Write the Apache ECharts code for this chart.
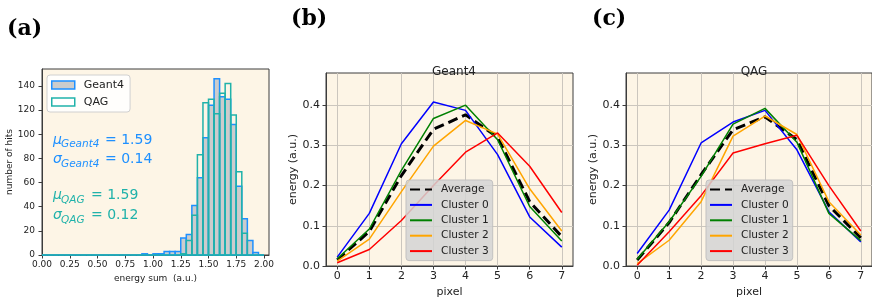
<!DOCTYPE html>
<html>
  <head>
    <meta charset="utf-8" />
    <title>ECharts</title>
    <script src="https://cdn.jsdelivr.net/npm/echarts@6/dist/echarts.min.js"></script>
    <style>html, body { margin: 0; padding: 0; background: #fff; }</style>
  </head>
  <body>
    <div id="main" style="width:872px;height:303px;"></div>
    <script type="text/javascript">
// (a) histogram, bins of 0.05 in energy sum
var binWidth = 0.05;
var binStarts = [0.00, 0.05, 0.10, 0.15, 0.20, 0.25, 0.30, 0.35, 0.40, 0.45,
                 0.50, 0.55, 0.60, 0.65, 0.70, 0.75, 0.80, 0.85, 0.90, 0.95,
                 1.00, 1.05, 1.10, 1.15, 1.20, 1.25, 1.30, 1.35, 1.40, 1.45,
                 1.50, 1.55, 1.60, 1.65, 1.70, 1.75, 1.80, 1.85, 1.90, 1.95];
var geantCounts = [0, 0, 0, 0, 0, 0, 0, 0, 0, 0,
                   0, 0, 0, 0, 0, 0, 0, 0, 1, 0,
                   1, 1, 3, 3, 3, 14, 17, 41, 64, 97,
                   124, 146, 131, 129, 108, 57, 30, 12, 2, 0];
var qagCounts = [0, 0, 0, 0, 0, 0, 0, 0, 0, 0,
                 0, 0, 0, 0, 0, 0, 0, 0, 0, 0,
                 0, 0, 0, 0, 0, 1, 12, 33, 83, 126,
                 129, 117, 134, 142, 116, 69, 18, 0, 0, 0];
var histXTicks = [0, 0.25, 0.5, 0.75, 1, 1.25, 1.5, 1.75, 2];
var histYTicks = [0, 20, 40, 60, 80, 100, 120, 140];

// (b) and (c) mean cluster profiles
var pixels = [0, 1, 2, 3, 4, 5, 6, 7];
var energyTicks = [0, 0.1, 0.2, 0.3, 0.4];
var lineNames = ['Average', 'Cluster 0', 'Cluster 1', 'Cluster 2', 'Cluster 3'];
var lineColors = ['#000000', '#0000ff', '#008000', '#ffa500', '#ff0000'];

var geantAverage  = [0.015, 0.086, 0.225, 0.340, 0.376, 0.320, 0.160, 0.073];
var geantCluster0 = [0.022, 0.131, 0.304, 0.408, 0.387, 0.277, 0.122, 0.047];
var geantCluster1 = [0.018, 0.092, 0.238, 0.367, 0.400, 0.314, 0.148, 0.062];
var geantCluster2 = [0.012, 0.067, 0.185, 0.298, 0.362, 0.328, 0.192, 0.087];
var geantCluster3 = [0.008, 0.041, 0.113, 0.200, 0.283, 0.331, 0.248, 0.133];

var qagAverage  = [0.015, 0.108, 0.227, 0.339, 0.371, 0.314, 0.150, 0.070];
var qagCluster0 = [0.031, 0.139, 0.306, 0.358, 0.387, 0.289, 0.135, 0.060];
var qagCluster1 = [0.017, 0.110, 0.223, 0.353, 0.392, 0.308, 0.131, 0.063];
var qagCluster2 = [0.006, 0.064, 0.160, 0.323, 0.373, 0.327, 0.160, 0.077];
var qagCluster3 = [0.002, 0.085, 0.175, 0.281, 0.304, 0.325, 0.200, 0.087];

var FONT = 'DejaVu Sans';
var BLUE = '#1e90ff';
var TEAL = '#20b2aa';
var myChart = echarts.init(document.getElementById('main'));

function binData(counts) {
  return counts.map(function (c, i) {
    return [binStarts[i], binStarts[i] + binWidth, c];
  });
}

function histSeries(name, counts, fill, stroke) {
  return {
    name: name,
    type: 'custom',
    xAxisIndex: 0,
    yAxisIndex: 0,
    encode: { x: [0, 1], y: 2 },
    itemStyle: { color: fill, borderColor: stroke },
    renderItem: function (params, api) {
      var top = api.coord([api.value(0), api.value(2)]);
      var base = api.coord([api.value(1), 0]);
      return {
        type: 'rect',
        shape: { x: top[0], y: top[1], width: base[0] - top[0], height: base[1] - top[1] },
        style: { fill: fill, stroke: stroke, lineWidth: 1.5 }
      };
    },
    data: binData(counts)
  };
}

function lineSeries(values, k, axis) {
  return {
    name: lineNames[k],
    type: 'line',
    xAxisIndex: axis,
    yAxisIndex: axis,
    symbol: 'none',
    color: lineColors[k],
    lineStyle: k === 0 ? { width: 3, type: [10, 5], color: '#000' } : { width: 1.5, color: lineColors[k] },
    data: values.map(function (v, i) { return [pixels[i], v]; })
  };
}

function axisCommon(fontSize, margin) {
  return {
    axisLine: { show: true, onZero: false, lineStyle: { color: '#3c3c3c', width: 1 } },
    axisTick: { show: true, length: 3.5, lineStyle: { color: '#3c3c3c' } },
    axisLabel: { color: '#222', fontFamily: FONT, fontSize: fontSize, margin: margin },
    nameTextStyle: { color: '#222', fontFamily: FONT, fontSize: fontSize },
    nameLocation: 'middle'
  };
}

function makeAxis(base, extra) {
  return echarts.util.merge(echarts.util.clone(base), extra, true);
}

var gridLine = { show: true, lineStyle: { color: '#cbc6be', width: 1 } };

var xAxes = [
  makeAxis(axisCommon(9, 5), {
    gridIndex: 0, type: 'value', min: 0, max: 2.045,
    name: 'energy sum  (a.u.)', nameGap: 17,
    axisTick: { customValues: histXTicks },
    axisLabel: { customValues: histXTicks, formatter: function (v) { return v.toFixed(2); } },
    splitLine: { show: false }
  }),
  makeAxis(axisCommon(11, 5), {
    gridIndex: 1, type: 'value', min: -0.35, max: 7.35,
    name: 'pixel', nameGap: 19,
    axisTick: { customValues: pixels },
    axisLabel: { customValues: pixels },
    splitLine: gridLine
  }),
  makeAxis(axisCommon(11, 5), {
    gridIndex: 2, type: 'value', min: -0.35, max: 7.35,
    name: 'pixel', nameGap: 19,
    axisTick: { customValues: pixels },
    axisLabel: { customValues: pixels },
    splitLine: gridLine
  })
];

var yAxes = [
  makeAxis(axisCommon(9, 7), {
    gridIndex: 0, type: 'value', min: 0, max: 154,
    name: 'number of hits', nameGap: 27,
    axisTick: { customValues: histYTicks },
    axisLabel: { customValues: histYTicks },
    splitLine: { show: false }
  }),
  makeAxis(axisCommon(11, 6), {
    gridIndex: 1, type: 'value', min: 0, max: 0.48,
    name: 'energy (a.u.)', nameGap: 27,
    axisTick: { customValues: energyTicks },
    axisLabel: { customValues: energyTicks, formatter: function (v) { return v.toFixed(1); } },
    splitLine: gridLine
  }),
  makeAxis(axisCommon(11, 6), {
    gridIndex: 2, type: 'value', min: 0, max: 0.48,
    name: 'energy (a.u.)', nameGap: 27,
    axisTick: { customValues: energyTicks },
    axisLabel: { customValues: energyTicks, formatter: function (v) { return v.toFixed(1); } },
    splitLine: gridLine
  })
];

var frame = { show: true, backgroundColor: '#fdf5e6', borderColor: '#3c3c3c', borderWidth: 1 };

function lineLegend(left) {
  return {
    orient: 'vertical', left: left, top: 180,
    padding: [4, 4, 4, 3],
    itemGap: 4.4, itemWidth: 22, itemHeight: 10,
    backgroundColor: 'rgba(211,211,211,0.85)',
    borderColor: 'rgba(190,190,190,0.9)', borderWidth: 1, borderRadius: 3,
    // hide the marker dot, keep only the line
    itemStyle: { color: 'transparent', borderWidth: 0, opacity: 0 },
    textStyle: { fontFamily: FONT, fontSize: 10.6, color: '#222', lineHeight: 11, padding: [0, 0, 0, 4] },
    data: lineNames
  };
}

function annot(x, y, sym, sub, rest, color) {
  return [
    { type: 'text', left: x, top: y - 9, style: { text: sym, fontFamily: FONT, fontStyle: 'italic', fontSize: 14, fill: color } },
    { type: 'text', left: x + 8, top: y - 3, style: { text: sub, fontFamily: FONT, fontStyle: 'italic', fontSize: 10.5, fill: color } },
    { type: 'text', left: x + (sub === 'QAG' ? 38 : 52), top: y - 9, style: { text: rest, fontFamily: FONT, fontSize: 14, fill: color } }
  ];
}

var panelFont = { fontFamily: 'DejaVu Serif', fontWeight: 'bold', fontSize: 22, fill: '#000' };

option = {
  animation: false,
  backgroundColor: '#ffffff',
  title: [
    { text: 'Geant4', left: 449, top: 61, textAlign: 'center', textStyle: { fontFamily: FONT, fontSize: 12, fontWeight: 'normal', color: '#222' } },
    { text: 'QAG', left: 749, top: 61, textAlign: 'center', textStyle: { fontFamily: FONT, fontSize: 12, fontWeight: 'normal', color: '#222' } }
  ],
  grid: [
    echarts.util.extend({ left: 42, top: 69, width: 227, height: 186 }, frame),
    echarts.util.extend({ left: 326, top: 73, width: 247, height: 193 }, frame),
    echarts.util.extend({ left: 626, top: 73, width: 246, height: 193 }, frame)
  ],
  xAxis: xAxes,
  yAxis: yAxes,
  legend: [
    {
      orient: 'vertical', left: 47, top: 75,
      padding: [4, 6, 4, 4],
      itemGap: 5, itemWidth: 23, itemHeight: 8,
      backgroundColor: 'rgba(255,255,255,0.85)',
      borderColor: '#d0d0d0', borderWidth: 1, borderRadius: 3,
      textStyle: { fontFamily: FONT, fontSize: 11, color: '#222', lineHeight: 12, padding: [0, 0, 0, 4] },
      data: [
        { name: 'Geant4', icon: 'rect', itemStyle: { color: '#cccccc', borderColor: BLUE, borderWidth: 1.5, opacity: 1 } },
        { name: 'QAG', icon: 'rect', itemStyle: { color: '#ffffff', borderColor: TEAL, borderWidth: 1.5, opacity: 1 } }
      ]
    },
    lineLegend(406),
    lineLegend(706)
  ],
  graphic: [
    { type: 'text', left: 7, top: 18, style: echarts.util.extend({ text: '(a)' }, panelFont) },
    { type: 'text', left: 291, top: 8, style: echarts.util.extend({ text: '(b)' }, panelFont) },
    { type: 'text', left: 592, top: 8, style: echarts.util.extend({ text: '(c)' }, panelFont) }
  ].concat(
    annot(53, 142, '\u03bc', 'Geant4', '= 1.59', BLUE),
    annot(53, 161.5, '\u03c3', 'Geant4', '= 0.14', BLUE),
    annot(53, 197.5, '\u03bc', 'QAG', '= 1.59', TEAL),
    annot(53, 217.5, '\u03c3', 'QAG', '= 0.12', TEAL)
  ),
  series: [
    histSeries('Geant4', geantCounts, '#cccccc', BLUE),
    histSeries('QAG', qagCounts, 'none', TEAL),
    lineSeries(geantAverage, 0, 1),
    lineSeries(geantCluster0, 1, 1),
    lineSeries(geantCluster1, 2, 1),
    lineSeries(geantCluster2, 3, 1),
    lineSeries(geantCluster3, 4, 1),
    lineSeries(qagAverage, 0, 2),
    lineSeries(qagCluster0, 1, 2),
    lineSeries(qagCluster1, 2, 2),
    lineSeries(qagCluster2, 3, 2),
    lineSeries(qagCluster3, 4, 2)
  ]
};
myChart.setOption(option);
    </script>
  </body>
</html>
